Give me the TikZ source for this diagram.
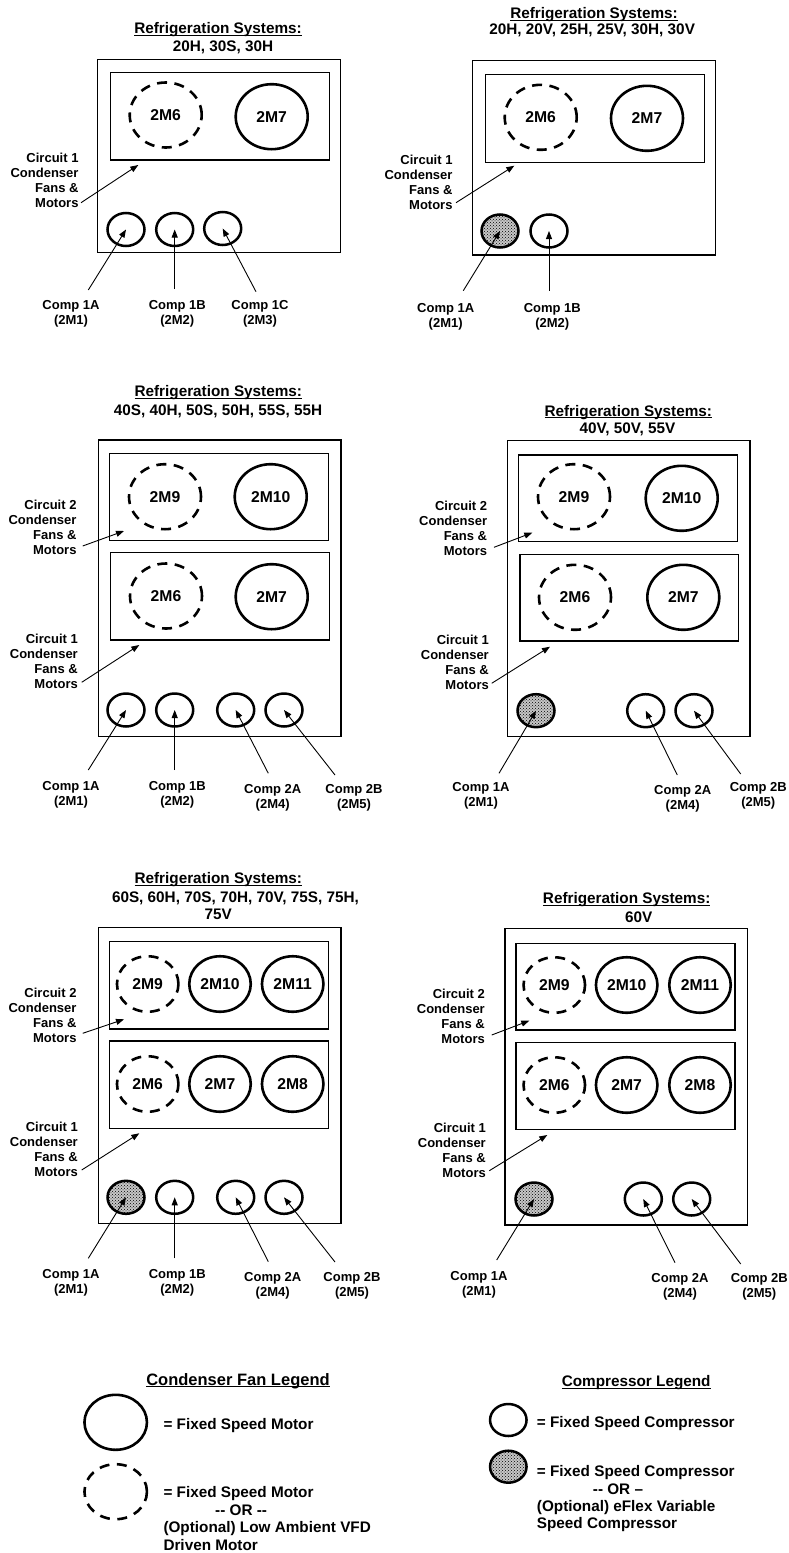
\documentclass[tikz,border=0pt]{standalone}
\usepackage{fontspec}
\setmainfont{Liberation Sans}
\usetikzlibrary{shapes.geometric,arrows.meta,patterns}
\newcommand\myul[1]{\setbox0=\hbox{#1}\rlap{\rule[-2pt]{\wd0}{1pt}}\box0}
\tikzset{
 box/.style={draw, line width=1.3pt},
 fanbig/.style={ellipse, draw, line width=2.6pt, inner sep=0pt, minimum width=72pt, minimum height=65pt, font=\bfseries\fontsize{15.7}{16}\selectfont},
 fansmall/.style={fanbig, minimum width=61.5pt, minimum height=55.5pt},
 fanleg/.style={fanbig, minimum width=62.5pt, minimum height=55pt},
 vfd/.style={dash pattern=on 10pt off 7.5pt},
 comp/.style={ellipse, draw, line width=2.5pt, inner sep=0pt, minimum width=37pt, minimum height=33pt},
 eflex/.style={comp, preaction={fill=black!22}, pattern=crosshatch dots, pattern color=black},
 lbl/.style={inner sep=0pt, align=center, anchor=north, font=\bfseries\fontsize{13}{15}\selectfont},
 circ/.style={inner sep=0pt, align=right, anchor=north east, font=\bfseries\fontsize{13}{15}\selectfont},
 ttl/.style={inner sep=0pt, anchor=base, font=\bfseries\fontsize{15.3}{18}\selectfont},
 leg/.style={inner sep=0pt, anchor=base west, font=\bfseries\fontsize{15.3}{17.4}\selectfont},
 legblock/.style={inner sep=0pt, anchor=north west, align=left, font=\bfseries\fontsize{15.3}{17.4}\selectfont},
 arr/.style={-{Triangle[length=8pt,width=6pt]}, line width=0.9pt},
}
\begin{document}
\begin{tikzpicture}[x=1pt,y=-1pt]
\useasboundingbox (0,0) rectangle (788,1553);
\fill[white] (0,0) rectangle (788,1553);

% ================= Panel 1 =================
\node[ttl] (t1a) at (218,33.8) {\myul{Refrigeration Systems:}};
\node[ttl] (t1b) at (223,51.2) {20H, 30S, 30H};
\draw[box] (97.7,59.3) rectangle (340.7,252.3);
\draw[box] (110.3,72.7) rectangle (329.3,160);
\node[fanbig,vfd] (p1m6) at (165.7,115) {2M6};
\node[fanbig] (p1m7) at (271.7,116.7) {2M7};
\node[comp] (p1c1) at (126,229.5) {};
\node[comp] (p1c2) at (174.7,229.5) {};
\node[comp] (p1c3) at (222.7,228.5) {};
\node[lbl] (p1l1) at (71,300.7) {Comp 1A\\(2M1)};
\node[lbl] (p1l2) at (177.3,300.7) {Comp 1B\\(2M2)};
\node[lbl] (p1l3) at (260,300.7) {Comp 1C\\(2M3)};
\coordinate (p1a1) at (88.3,290);
\coordinate (p1a2) at (174.7,289);
\coordinate (p1a3) at (256,291.7);
\draw[arr] (p1a1) -- (p1c1.center);
\draw[arr] (p1a2) -- (p1c2.center);
\draw[arr] (p1a3) -- (p1c3.center);
\node[circ] (p1k1) at (78.7,152.4) {Circuit 1\\Condenser\\Fans \&\\Motors};
\coordinate (p1s1) at (81,202.7);
\coordinate (p1e1) at (138.3,165);
\draw[arr] (p1s1) -- (p1e1);

% ================= Panel 2 =================
\node[ttl] (t2a) at (594,18.8) {\myul{Refrigeration Systems:}};
\node[ttl] (t2b) at (592.2,34.8) {20H, 20V, 25H, 25V, 30H, 30V};
\draw[box] (472.7,60.7) rectangle (715.7,255);
\draw[box] (485.3,74.7) rectangle (704.3,162.3);
\node[fanbig,vfd] (p2m6) at (540.7,117.3) {2M6};
\node[fanbig] (p2m7) at (647,118.3) {2M7};
\node[eflex] (p2c1) at (500,231) {};
\node[comp] (p2c2) at (549,231) {};
\node[lbl] (p2l1) at (445.7,303.3) {Comp 1A\\(2M1)};
\node[lbl] (p2l2) at (552.3,303.3) {Comp 1B\\(2M2)};
\coordinate (p2a1) at (463.3,290.7);
\coordinate (p2a2) at (549,290.7);
\draw[arr] (p2a1) -- (p2c1.center);
\draw[arr] (p2a2) -- (p2c2.center);
\node[circ] (p2k1) at (452.7,155) {Circuit 1\\Condenser\\Fans \&\\Motors};
\coordinate (p2s1) at (456,202.7);
\coordinate (p2e1) at (514.3,165.7);
\draw[arr] (p2s1) -- (p2e1);

% ================= Panel 3 =================
\node[ttl] (t3a) at (218.3,396.5) {\myul{Refrigeration Systems:}};
\node[ttl] (t3b) at (218,415.5) {40S, 40H, 50S, 50H, 55S, 55H};
\draw[box] (98.3,440) rectangle (341,736.7);
\draw[box] (109.3,453.7) rectangle (328.3,540.7);
\draw[box] (110.7,552.7) rectangle (329.7,640);
\node[fanbig,vfd] (p3m9) at (165,496.7) {2M9};
\node[fanbig] (p3m10) at (270.7,496.7) {2M10};
\node[fanbig,vfd] (p3m6) at (166,596) {2M6};
\node[fanbig] (p3m7) at (271.7,596.7) {2M7};
\node[comp] (p3c1) at (126,710) {};
\node[comp] (p3c2) at (174.7,710) {};
\node[comp] (p3c4) at (235.7,710) {};
\node[comp] (p3c5) at (284,710) {};
\node[lbl] (p3l1) at (71,781.7) {Comp 1A\\(2M1)};
\node[lbl] (p3l2) at (177.3,781.7) {Comp 1B\\(2M2)};
\node[lbl] (p3l4) at (272.7,784) {Comp 2A\\(2M4)};
\node[lbl] (p3l5) at (354,784) {Comp 2B\\(2M5)};
\coordinate (p3a1) at (88.3,770);
\coordinate (p3a2) at (174.7,770);
\coordinate (p3a4) at (268.3,773.3);
\coordinate (p3a5) at (335,775);
\draw[arr] (p3a1) -- (p3c1.center);
\draw[arr] (p3a2) -- (p3c2.center);
\draw[arr] (p3a4) -- (p3c4.center);
\draw[arr] (p3a5) -- (p3c5.center);
\node[circ] (p3k2) at (76.7,499.4) {Circuit 2\\Condenser\\Fans \&\\Motors};
\node[circ] (p3k1) at (78,633.4) {Circuit 1\\Condenser\\Fans \&\\Motors};
\coordinate (p3s2) at (82.7,546);
\coordinate (p3e2) at (124,531);
\coordinate (p3s1) at (81.7,682.3);
\coordinate (p3e1) at (139.3,645);
\draw[arr] (p3s2) -- (p3e2);
\draw[arr] (p3s1) -- (p3e1);

% ================= Panel 4 =================
\node[ttl] (t4a) at (628.3,416.2) {\myul{Refrigeration Systems:}};
\node[ttl] (t4b) at (627.5,433.8) {40V, 50V, 55V};
\draw[box] (507.3,440.7) rectangle (750,736.7);
\draw[box] (518.3,455) rectangle (737.3,541.7);
\draw[box] (520,554.3) rectangle (738.7,641);
\node[fanbig,vfd] (p4m9) at (574,496.7) {2M9};
\node[fanbig] (p4m10) at (681.7,498.3) {2M10};
\node[fanbig,vfd] (p4m6) at (575,597.3) {2M6};
\node[fanbig] (p4m7) at (683.3,597.3) {2M7};
\node[eflex] (p4c1) at (536,710.7) {};
\node[comp] (p4c4) at (645.7,710.7) {};
\node[comp] (p4c5) at (694,710.7) {};
\node[lbl] (p4l1) at (481,782.4) {Comp 1A\\(2M1)};
\node[lbl] (p4l4) at (682.7,785) {Comp 2A\\(2M4)};
\node[lbl] (p4l5) at (758.3,782.4) {Comp 2B\\(2M5)};
\coordinate (p4a1) at (499,773.3);
\coordinate (p4a4) at (677.3,775);
\coordinate (p4a5) at (740.7,774);
\draw[arr] (p4a1) -- (p4c1.center);
\draw[arr] (p4a4) -- (p4c4.center);
\draw[arr] (p4a5) -- (p4c5.center);
\node[circ] (p4k2) at (487.3,500.8) {Circuit 2\\Condenser\\Fans \&\\Motors};
\node[circ] (p4k1) at (489,634.4) {Circuit 1\\Condenser\\Fans \&\\Motors};
\coordinate (p4s2) at (494,547.3);
\coordinate (p4e2) at (532.3,532.7);
\coordinate (p4s1) at (491.7,683.3);
\coordinate (p4e1) at (550,646.7);
\draw[arr] (p4s2) -- (p4e2);
\draw[arr] (p4s1) -- (p4e1);

% ================= Panel 5 =================
\node[ttl] (t5a) at (218.3,883.8) {\myul{Refrigeration Systems:}};
\node[ttl] (t5b) at (235.5,902.2) {60S, 60H, 70S, 70H, 70V, 75S, 75H,};
\node[ttl] (t5c) at (218.3,919.8) {75V};
\draw[box] (98.3,927.3) rectangle (341,1223.3);
\draw[box] (109.3,941.7) rectangle (328.3,1029);
\draw[box] (109.3,1041) rectangle (328.3,1128.3);
\node[fansmall,vfd] (p5m9) at (147.7,984) {2M9};
\node[fansmall] (p5m10) at (220,984) {2M10};
\node[fansmall] (p5m11) at (292.7,984) {2M11};
\node[fansmall,vfd] (p5m6) at (147.7,1084) {2M6};
\node[fansmall] (p5m7) at (220,1084) {2M7};
\node[fansmall] (p5m8) at (292.7,1084) {2M8};
\node[eflex] (p5c1) at (126,1197.3) {};
\node[comp] (p5c2) at (174.7,1197.3) {};
\node[comp] (p5c4) at (235.7,1197.3) {};
\node[comp] (p5c5) at (284,1197.3) {};
\node[lbl] (p5l1) at (71,1269.4) {Comp 1A\\(2M1)};
\node[lbl] (p5l2) at (177.3,1269.4) {Comp 1B\\(2M2)};
\node[lbl] (p5l4) at (272.7,1271.8) {Comp 2A\\(2M4)};
\node[lbl] (p5l5) at (352,1271.8) {Comp 2B\\(2M5)};
\coordinate (p5a1) at (88.3,1258.3);
\coordinate (p5a2) at (174.7,1258.3);
\coordinate (p5a4) at (268.3,1261.7);
\coordinate (p5a5) at (335,1262);
\draw[arr] (p5a1) -- (p5c1.center);
\draw[arr] (p5a2) -- (p5c2.center);
\draw[arr] (p5a4) -- (p5c4.center);
\draw[arr] (p5a5) -- (p5c5.center);
\node[circ] (p5k2) at (76.7,987.8) {Circuit 2\\Condenser\\Fans \&\\Motors};
\node[circ] (p5k1) at (78,1121.8) {Circuit 1\\Condenser\\Fans \&\\Motors};
\coordinate (p5s2) at (82.7,1033.3);
\coordinate (p5e2) at (124,1019.3);
\coordinate (p5s1) at (81.7,1170);
\coordinate (p5e1) at (139.3,1133.3);
\draw[arr] (p5s2) -- (p5e2);
\draw[arr] (p5s1) -- (p5e1);

% ================= Panel 6 =================
\node[ttl] (t6a) at (626.7,903.8) {\myul{Refrigeration Systems:}};
\node[ttl] (t6b) at (638.7,922.2) {60V};
\draw[box] (505,928.3) rectangle (747.7,1225);
\draw[box] (516,943.3) rectangle (735,1030);
\draw[box] (516,1042.3) rectangle (735,1129.3);
\node[fansmall,vfd] (p6m9) at (554.3,985) {2M9};
\node[fansmall] (p6m10) at (626.7,985) {2M10};
\node[fansmall] (p6m11) at (700,985) {2M11};
\node[fansmall,vfd] (p6m6) at (554.3,1085) {2M6};
\node[fansmall] (p6m7) at (626.7,1085) {2M7};
\node[fansmall] (p6m8) at (700,1085) {2M8};
\node[eflex] (p6c1) at (534,1199) {};
\node[comp] (p6c4) at (643.3,1199) {};
\node[comp] (p6c5) at (691.7,1199) {};
\node[lbl] (p6l1) at (479,1270.8) {Comp 1A\\(2M1)};
\node[lbl] (p6l4) at (680,1272.8) {Comp 2A\\(2M4)};
\node[lbl] (p6l5) at (759.3,1273.4) {Comp 2B\\(2M5)};
\coordinate (p6a1) at (496.7,1260);
\coordinate (p6a4) at (675,1262.7);
\coordinate (p6a5) at (740.7,1264);
\draw[arr] (p6a1) -- (p6c1.center);
\draw[arr] (p6a4) -- (p6c4.center);
\draw[arr] (p6a5) -- (p6c5.center);
\node[circ] (p6k2) at (485,988.4) {Circuit 2\\Condenser\\Fans \&\\Motors};
\node[circ] (p6k1) at (486,1122.8) {Circuit 1\\Condenser\\Fans \&\\Motors};
\coordinate (p6s2) at (491.7,1035);
\coordinate (p6e2) at (529.3,1020.7);
\coordinate (p6s1) at (489.3,1170.7);
\coordinate (p6e1) at (547.3,1135);
\draw[arr] (p6s2) -- (p6e2);
\draw[arr] (p6s1) -- (p6e1);

% ================= Legends =================
\node[ttl, font=\bfseries\fontsize{16.5}{18}\selectfont] (lgf) at (238,1385.2) {\myul{Condenser Fan Legend}};
\node[fanleg] (lgfan1) at (115.7,1422.3) {};
\node[leg] (lgfan1t) at (163.3,1429.5) {= Fixed Speed Motor};
\node[fanleg,vfd] (lgfan2) at (115.7,1491.7) {};
\node[legblock] (lgfan2t) at (163.3,1486.6) {= Fixed Speed Motor\\\hspace*{51.7pt}{-}{-} OR {-}{-}\\(Optional) Low Ambient VFD\\Driven Motor};

\node[ttl] (lgc) at (636.2,1386.5) {\myul{Compressor Legend}};
\node[comp, minimum width=36.5pt, minimum height=32pt] (lgc1) at (508.3,1420) {};
\node[leg] (lgc1t) at (536.7,1427.2) {= Fixed Speed Compressor};
\node[eflex, minimum width=36.5pt, minimum height=32pt] (lgc2) at (508.3,1466.7) {};
\node[legblock] (lgc2t) at (536.7,1465.3) {= Fixed Speed Compressor\\\hspace*{56pt}{-}{-} OR --\\(Optional) eFlex Variable\\Speed Compressor};
\end{tikzpicture}
\end{document}
